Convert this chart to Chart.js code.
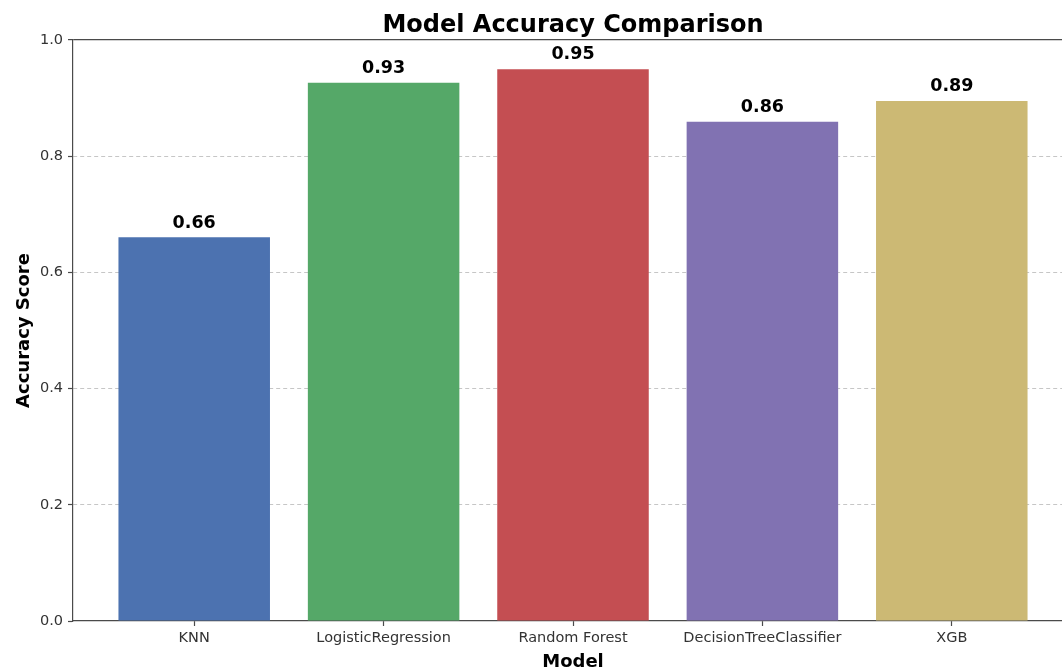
<!DOCTYPE html>
<html>
<head>
<meta charset="utf-8">
<script src="https://cdn.jsdelivr.net/npm/chart.js@4"></script>
<style>
  html, body { margin: 0; padding: 0; overflow: hidden; background: #fff; }
  #wrap { position: absolute; left: 0; top: 0; width: 1090px; height: 680px; }
</style>
</head>
<body>
<div id="wrap"><canvas id="chart" width="1090" height="680"></canvas></div>
<script>
// Model names and their test accuracy
const models = ['KNN', 'LogisticRegression', 'Random Forest', 'DecisionTreeClassifier', 'XGB'];
const accuracy = [0.6604, 0.9265, 0.9496, 0.8594, 0.8948];
const barColors = ['#4C72B0', '#55A868', '#C44E52', '#8172B2', '#CCB974'];
const yTicks = [0, 0.2, 0.4, 0.6, 0.8, 1.0];
const chartTitle = 'Model Accuracy Comparison';

const FONT = '"DejaVu Sans", "Liberation Sans", sans-serif';
const SPINE = '#4a4a4a';

// Title centred over the plot area, plus the two-decimal score above each bar
const annotations = {
  id: 'annotations',
  afterDatasetsDraw(chart) {
    const ctx = chart.ctx;
    const area = chart.chartArea;
    const meta = chart.getDatasetMeta(0);
    ctx.save();
    ctx.fillStyle = '#000';
    ctx.textAlign = 'center';
    ctx.textBaseline = 'alphabetic';

    ctx.font = 'bold 24px ' + FONT;
    ctx.fillText(chartTitle, (area.left + area.right) / 2, area.top - 8);

    ctx.font = 'bold 17.5px ' + FONT;
    meta.data.forEach((bar, i) => {
      ctx.fillText(accuracy[i].toFixed(2), bar.x, bar.y - 9.8);
    });
    ctx.restore();
  }
};

new Chart(document.getElementById('chart'), {
  type: 'bar',
  data: {
    datasets: [{
      data: accuracy.map((v, i) => ({ x: i, y: v })),
      backgroundColor: barColors,
      borderWidth: 0,
      categoryPercentage: 0.8,
      barPercentage: 1.0
    }]
  },
  options: {
    responsive: false,
    animation: false,
    layout: { padding: { left: 0, right: 17, top: 40, bottom: 0 } },
    plugins: {
      legend: { display: false },
      tooltip: { enabled: false },
      title: { display: false }
    },
    scales: {
      x: {
        type: 'linear',
        offset: false,
        min: -0.64,
        max: 4.64,
        afterBuildTicks(scale) {
          scale.ticks = models.map((_, i) => ({ value: i }));
        },
        afterFit(scale) { scale.height = 59; },
        ticks: {
          color: '#333',
          font: { family: FONT, size: 14.5 },
          padding: 4,
          maxRotation: 0,
          autoSkip: false,
          callback: (v) => models[v]
        },
        grid: {
          offset: false,
          drawOnChartArea: false,
          drawTicks: true,
          tickLength: 5,
          tickColor: SPINE,
          tickWidth: 1.2
        },
        border: { display: true, color: SPINE, width: 1.2 },
        title: {
          display: true,
          text: 'Model',
          color: '#000',
          font: { family: FONT, size: 18, weight: 'bold', lineHeight: 1.2 },
          padding: { top: 0, bottom: 7 }
        }
      },
      y: {
        min: 0,
        max: 1,
        afterBuildTicks(scale) {
          scale.ticks = yTicks.map(v => ({ value: v }));
        },
        afterFit(scale) { scale.width = 73; },
        ticks: {
          color: '#333',
          font: { family: FONT, size: 14.5 },
          padding: 5,
          callback: (v) => v.toFixed(1)
        },
        grid: {
          color: (c) => {
            const v = c.tick ? c.tick.value : null;
            if (v === 0) return 'rgba(0,0,0,0)';
            if (v === 1) return SPINE;
            return '#c6c6c6';
          },
          lineWidth: (c) => (c.tick && c.tick.value === 1 ? 1.2 : 1),
          drawTicks: true,
          tickLength: 5,
          tickColor: SPINE,
          tickWidth: 1.2,
          tickBorderDash: []
        },
        border: {
          display: true,
          color: SPINE,
          width: 1.2,
          dash: (c) => (c.tick && c.tick.value === 1 ? [] : [4, 3])
        },
        title: {
          display: true,
          text: 'Accuracy Score',
          color: '#000',
          font: { family: FONT, size: 18, weight: 'bold', lineHeight: 1.2 },
          padding: { top: 14, bottom: 0 }
        }
      }
    }
  },
  plugins: [annotations]
});
</script>
</body>
</html>
